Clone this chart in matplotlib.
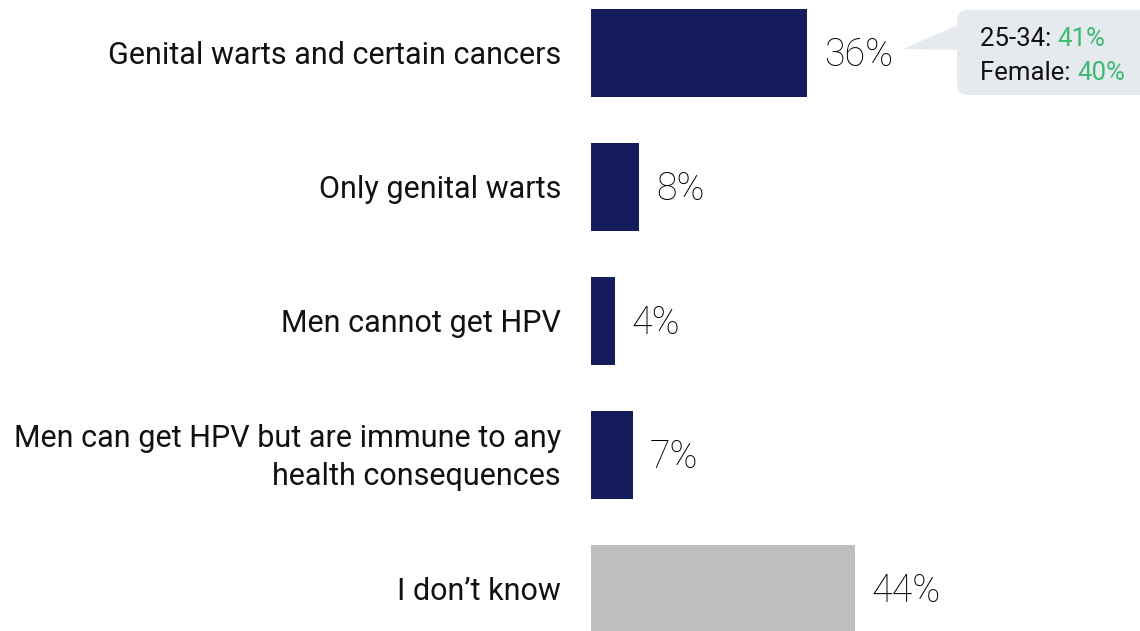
import matplotlib.pyplot as plt
from matplotlib.patches import FancyBboxPatch, Polygon

# Data
categories = ['Genital warts and certain cancers', 'Only genital warts', 'Men cannot get HPV',
              'Men can get HPV but are immune to any\nhealth consequences', "I don\u2019t know"]
values = [36, 8, 4, 7, 44]
bar_colors = ['#141c5b', '#141c5b', '#141c5b', '#141c5b', '#bfbfbf']
callout_labels = ['25-34: ', 'Female: ']
callout_values = ['41%', '40%']

plt.rcParams['font.family'] = ['Roboto', 'DejaVu Sans']

fig = plt.figure(figsize=(11.4, 6.31), dpi=100)
ax = fig.add_axes([591 / 1140, 0, 1 - 591 / 1140, 1])

pos = list(range(len(values)))
ax.barh(pos, values, height=0.657, color=bar_colors)
ax.set_xlim(0, (1140 - 591) / 6)
ax.set_ylim(4.313, -0.396)
ax.axis('off')

for p, v, c in zip(pos, values, categories):
    ax.text(v + 2.8, p + 0.02, f'{v}%', va='center', ha='left', fontsize=27,
            fontweight='light', color='#000000')
    ax.text(-5, p + 0.02, c, va='center', ha='right', fontsize=22, color='#111111',
            linespacing=1.38)

# callout box, drawn in pixel coords
ov = fig.add_axes([0, 0, 1, 1], facecolor='none')
ov.set_xlim(0, 1140)
ov.set_ylim(631, 0)
ov.axis('off')
box_col = '#e6e9ee'
ov.add_patch(FancyBboxPatch((957, 10), 200, 85, boxstyle='round,pad=0,rounding_size=11',
                            fc=box_col, ec='none'))
ov.add_patch(Polygon([[903, 49], [960, 24], [960, 50]], closed=True, fc=box_col, ec='none'))

for i, (lab, val) in enumerate(zip(callout_labels, callout_values)):
    y = 39 + i * 34
    t = ov.text(980, y, lab, va='center', ha='left', fontsize=18.5, color='#111111')
    ov.annotate(val, xy=(1, 0.5), xycoords=t, va='center', ha='left',
                fontsize=18.5, color='#3dbb74')

fig.savefig('out.png', dpi=100)
